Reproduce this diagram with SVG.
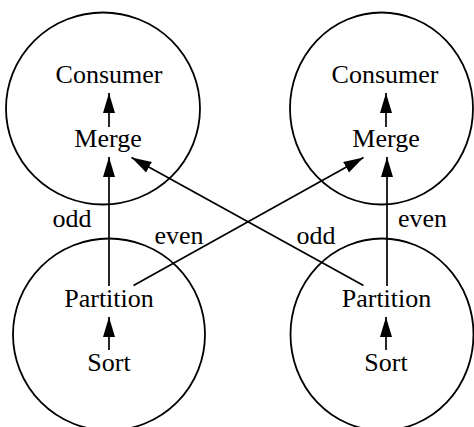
<svg xmlns="http://www.w3.org/2000/svg" width="474" height="427" viewBox="0 0 474 427">
  <style>
    .proc { fill: none; stroke: #000; stroke-width: 1.8; }
    .lbl { font-family: "Liberation Serif", "Times New Roman", serif; font-size: 26px; fill: #000; text-anchor: middle; }
    .edge { stroke: #000; stroke-width: 1.7; fill: none; marker-end: url(#head); }
  </style>
  <defs>
    <marker id="head" markerUnits="userSpaceOnUse" markerWidth="21" markerHeight="13" refX="20" refY="6.5" orient="auto">
      <path d="M0,0.5 L20,6.5 L0,12.5 Z" fill="#000"/>
    </marker>
  </defs>
  <rect width="474" height="427" fill="#fff"/>

  <!-- processor nodes -->
  <g id="proc-top-left">
    <ellipse class="proc" cx="103" cy="108.5" rx="97" ry="96"/>
    <text class="lbl" x="109" y="83">Consumer</text>
    <text class="lbl" x="108" y="147">Merge</text>
  </g>
  <g id="proc-top-right">
    <ellipse class="proc" cx="381.5" cy="108.5" rx="91.5" ry="96"/>
    <text class="lbl" x="385" y="83">Consumer</text>
    <text class="lbl" x="386" y="147">Merge</text>
  </g>
  <g id="proc-bottom-left">
    <ellipse class="proc" cx="109" cy="334.5" rx="96" ry="96"/>
    <text class="lbl" x="109" y="307">Partition</text>
    <text class="lbl" x="109" y="371">Sort</text>
  </g>
  <g id="proc-bottom-right">
    <ellipse class="proc" cx="382" cy="334.5" rx="91.5" ry="96"/>
    <text class="lbl" x="386.5" y="307">Partition</text>
    <text class="lbl" x="386" y="371">Sort</text>
  </g>

  <!-- connectors -->
  <g id="connectors">
    <line class="edge" x1="109" y1="127" x2="109" y2="93"/>
    <line class="edge" x1="386" y1="127" x2="386" y2="93"/>
    <line class="edge" x1="109" y1="350" x2="109" y2="317"/>
    <line class="edge" x1="386" y1="350" x2="386" y2="317"/>
    <line class="edge" x1="109" y1="286" x2="109" y2="157"/>
    <line class="edge" x1="387" y1="286" x2="387" y2="157"/>
    <line class="edge" x1="133.5" y1="285.5" x2="363.5" y2="157.5"/>
    <line class="edge" x1="363.5" y1="285.5" x2="131.5" y2="157.5"/>
    <text class="lbl" x="72" y="227">odd</text>
    <text class="lbl" x="179" y="244">even</text>
    <text class="lbl" x="316" y="244">odd</text>
    <text class="lbl" x="422.5" y="227">even</text>
  </g>
</svg>
